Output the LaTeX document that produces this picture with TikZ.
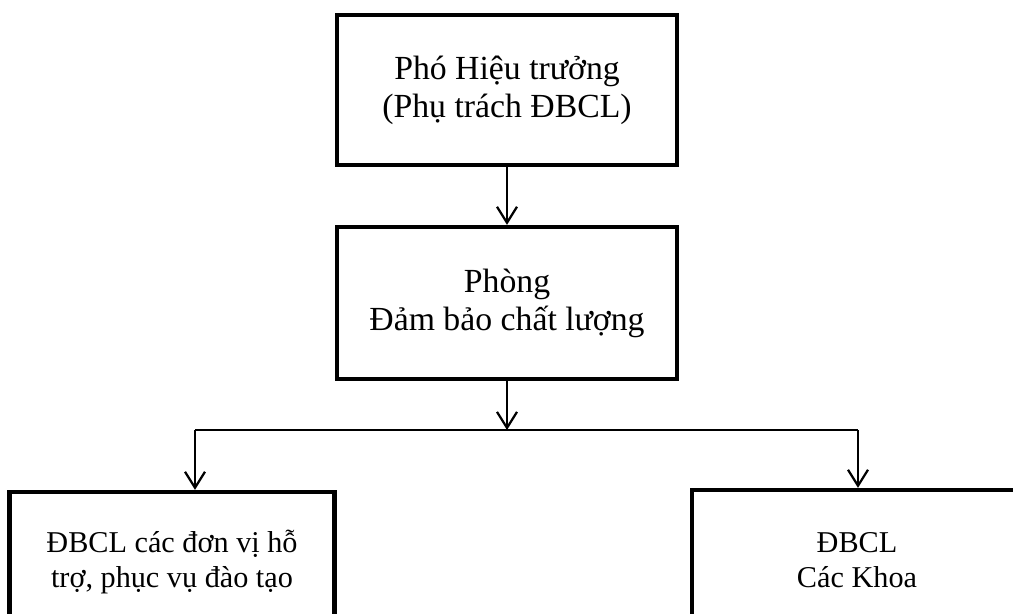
\documentclass[tikz,border=0pt]{standalone}
\usepackage{fontspec}
\setmainfont{Liberation Serif}
\usetikzlibrary{arrows.meta,positioning,calc}

\begin{document}
\begin{tikzpicture}[
    x=0.025cm, y=-0.025cm,
    unit/.style={rectangle, draw=black, line width=3pt, minimum width=8.5cm,
                 minimum height=3.75cm, align=center, font=\fontsize{24}{27}\selectfont},
    sub/.style={unit, minimum width=8.2cm, minimum height=3.5cm,
                font=\fontsize{21.5}{25}\selectfont},
    arr/.style={line width=1.6pt, -{Straight Barb[length=0.4cm, width=0.5cm, line width=1.6pt]}}
]
    \useasboundingbox (0,0) rectangle (1013,613);
    \clip (0,0) rectangle (1013,613);

    \node[unit] (vp) at (507,90) {Phó Hiệu trưởng\\(Phụ trách ĐBCL)};
    \node[unit, minimum height=3.8cm] (qa) at (507,303) {Phòng\\Đảm bảo chất lượng};
    \node[sub, minimum width=8.125cm] (supp) at (172,562) {ĐBCL các đơn vị hỗ\\trợ, phục vụ đào tạo};
    \node[sub, minimum width=8.25cm] (fac) at (857,560) {ĐBCL\\Các Khoa};

    \coordinate (split) at (507,430);
    \coordinate (jl) at (195,430);
    \coordinate (jr) at (858,430);

    \draw[arr] (vp) -- (qa);
    \draw[arr] (qa) -- (split);
    \draw[line width=1.2pt] (jl) -- (jr);
    \draw[arr] (jl) -- (jl |- supp.north);
    \draw[arr] (jr) -- (jr |- fac.north);
\end{tikzpicture}
\end{document}
